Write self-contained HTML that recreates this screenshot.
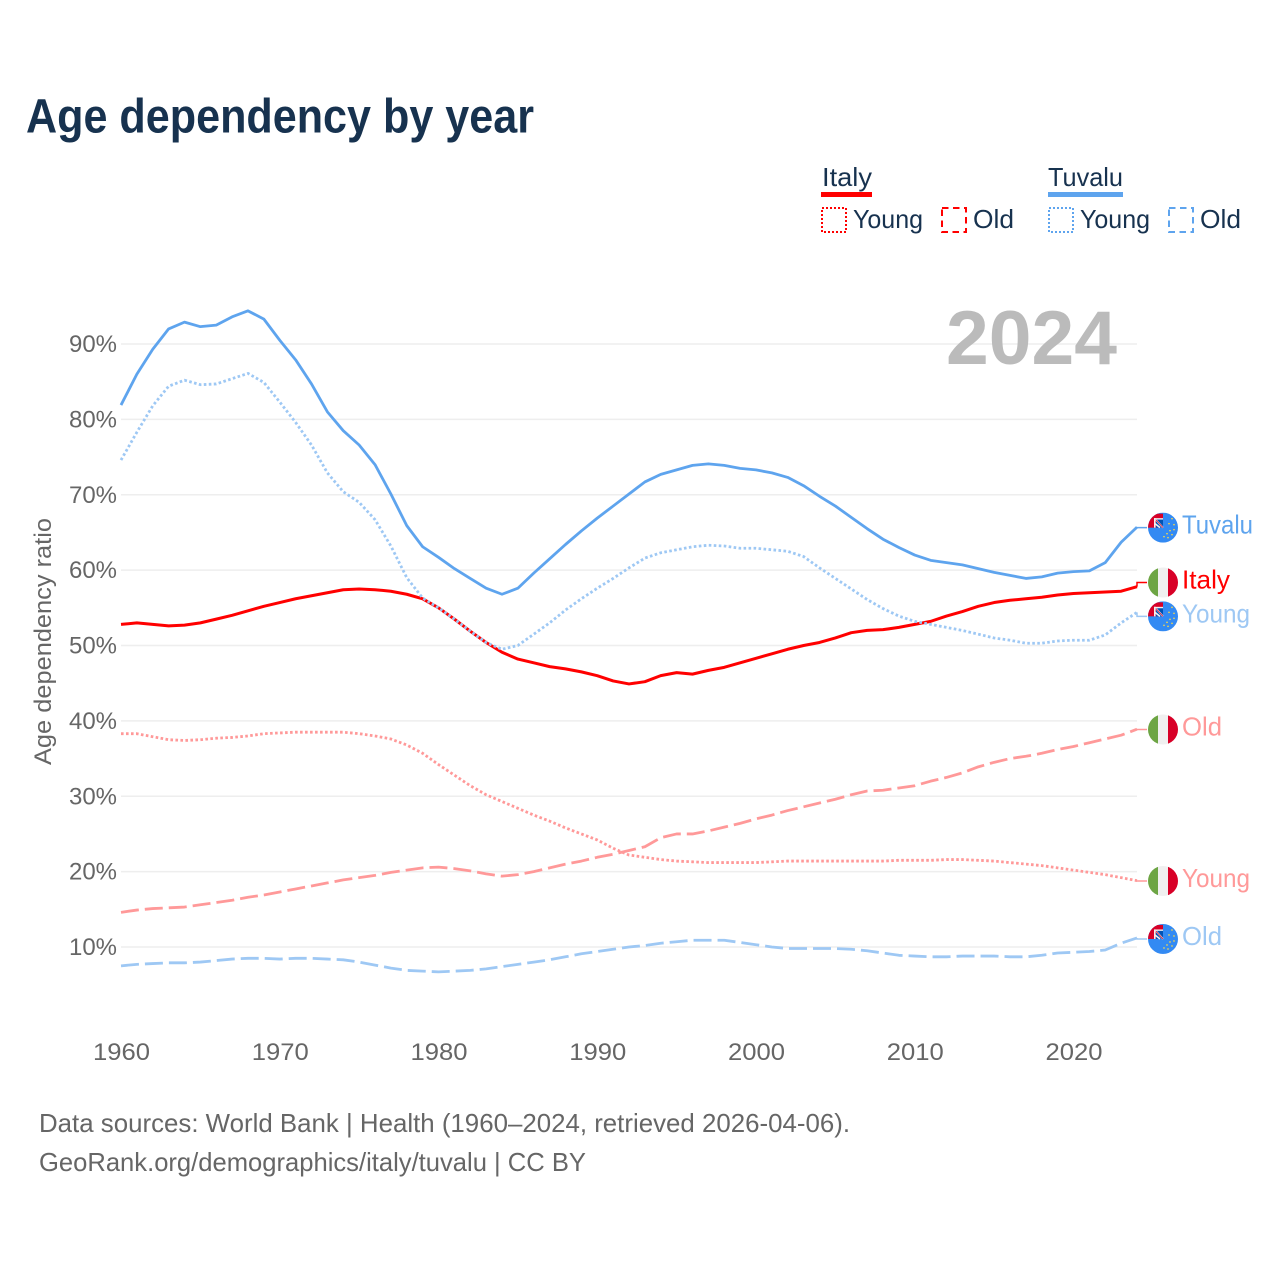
<!DOCTYPE html>
<html lang="en">
<head>
<meta charset="utf-8">
<title>Age dependency by year</title>
<style>
html,body{margin:0;padding:0;background:#fff;width:1280px;height:1280px;overflow:hidden}
svg{display:block}
text{font-family:"Liberation Sans",sans-serif}
</style>
</head>
<body>
<svg id="chart" width="1280" height="1280" viewBox="0 0 1280 1280" xmlns="http://www.w3.org/2000/svg">
  <defs>
    <clipPath id="flag-clip"><circle cx="0" cy="0" r="15"/></clipPath>
    <g id="flag-italy">
      <g clip-path="url(#flag-clip)">
        <rect x="-15" y="-15" width="30" height="30" fill="#f0f0f0"/>
        <rect x="-15" y="-15" width="10" height="30" fill="#6da544"/>
        <rect x="5" y="-15" width="10" height="30" fill="#d80027"/>
      </g>
    </g>
    <g id="flag-tuvalu">
      <g clip-path="url(#flag-clip)">
        <rect x="-15" y="-15" width="30" height="30" fill="#338af3"/>
        <rect x="-15" y="-14" width="15" height="14" fill="#d80027"/>
        <rect x="-7" y="-9" width="7" height="9" fill="#0052b4"/>
        <path d="M-8-9L0 0M-8-4L-3 0" stroke="#f0f0f0" stroke-width="1.6" fill="none"/>
        <path d="M-8-9L0 0" stroke="#d80027" stroke-width="0.7" fill="none"/>
        <rect x="-9" y="-9.5" width="1.6" height="9.5" fill="#f0f0f0"/>
        <rect x="-9" y="-9.5" width="9" height="1.4" fill="#f0f0f0"/>
        <g fill="#ffda44">
          <circle cx="9" cy="-9" r="0.8"/><circle cx="11" cy="-3" r="0.8"/><circle cx="6" cy="-4" r="0.8"/>
          <circle cx="11" cy="2" r="0.8"/><circle cx="7" cy="3" r="0.8"/><circle cx="4" cy="6" r="0.8"/>
          <circle cx="9" cy="7" r="0.8"/><circle cx="1" cy="9" r="0.8"/><circle cx="5" cy="10" r="0.8"/>
        </g>
      </g>
    </g>
  </defs>

  <text x="26" y="132.5" font-size="48" font-weight="700" fill="#17324f" textLength="508" lengthAdjust="spacingAndGlyphs">Age dependency by year</text>

  <g>
    <g>
      <text x="822" y="186" font-size="26" fill="#17324f" textLength="50" lengthAdjust="spacingAndGlyphs">Italy</text>
      <rect x="821" y="192" width="51" height="5" fill="#ff0000"/>
    </g>
    <g>
      <rect x="822" y="208" width="24" height="24" fill="none" stroke="#ff0000" stroke-width="2" stroke-dasharray="2 2"/>
      <text x="853" y="228" font-size="26" fill="#17324f" textLength="70" lengthAdjust="spacingAndGlyphs">Young</text>
    </g>
    <g>
      <rect x="942" y="208" width="24" height="24" fill="none" stroke="#ff0000" stroke-width="2" stroke-dasharray="6.5 4.5"/>
      <text x="973" y="228" font-size="26" fill="#17324f" textLength="41" lengthAdjust="spacingAndGlyphs">Old</text>
    </g>
    <g>
      <text x="1048" y="186" font-size="26" fill="#17324f" textLength="75" lengthAdjust="spacingAndGlyphs">Tuvalu</text>
      <rect x="1048" y="192" width="75" height="5" fill="#5ea4ee"/>
    </g>
    <g>
      <rect x="1049" y="208" width="24" height="24" fill="none" stroke="#5ea4ee" stroke-width="2" stroke-dasharray="2 2"/>
      <text x="1080" y="228" font-size="26" fill="#17324f" textLength="70" lengthAdjust="spacingAndGlyphs">Young</text>
    </g>
    <g>
      <rect x="1169" y="208" width="24" height="24" fill="none" stroke="#5ea4ee" stroke-width="2" stroke-dasharray="6.5 4.5"/>
      <text x="1200" y="228" font-size="26" fill="#17324f" textLength="41" lengthAdjust="spacingAndGlyphs">Old</text>
    </g>
  </g>

  <g id="grid"></g>
  <text x="946" y="364" font-size="76" font-weight="700" fill="#bbbbbb" textLength="171" lengthAdjust="spacingAndGlyphs">2024</text>
  <g id="y-ticks"></g>
  <g id="x-ticks"></g>
  <text transform="translate(51,765) rotate(-90)" font-size="24" fill="#666666" textLength="247" lengthAdjust="spacingAndGlyphs">Age dependency ratio</text>
  <g id="series"></g>
  <g id="end-labels"></g>

  <text x="39" y="1132" font-size="26" fill="#666666" textLength="811" lengthAdjust="spacingAndGlyphs">Data sources: World Bank | Health (1960–2024, retrieved 2026-04-06).</text>
  <text x="39" y="1171" font-size="26" fill="#666666" textLength="547" lengthAdjust="spacingAndGlyphs">GeoRank.org/demographics/italy/tuvalu | CC BY</text>
</svg>

<script>
const years = [
  1960,1961,1962,1963,1964,1965,1966,1967,1968,1969,
  1970,1971,1972,1973,1974,1975,1976,1977,1978,1979,
  1980,1981,1982,1983,1984,1985,1986,1987,1988,1989,
  1990,1991,1992,1993,1994,1995,1996,1997,1998,1999,
  2000,2001,2002,2003,2004,2005,2006,2007,2008,2009,
  2010,2011,2012,2013,2014,2015,2016,2017,2018,2019,
  2020,2021,2022,2023,2024
];
const tuvaluTotal = [
  81.9,86.0,89.3,92.0,92.9,92.3,92.5,93.6,94.4,93.3,
  90.5,87.9,84.7,81.0,78.5,76.6,74.0,70.1,65.9,63.1,
  61.7,60.2,58.9,57.6,56.8,57.6,59.6,61.5,63.4,65.2,
  66.9,68.5,70.1,71.7,72.7,73.3,73.9,74.1,73.9,73.5,
  73.3,72.9,72.3,71.2,69.8,68.5,67.0,65.5,64.1,63.0,
  62.0,61.3,61.0,60.7,60.2,59.7,59.3,58.9,59.1,59.6,
  59.8,59.9,61.0,63.7,65.7
];
const tuvaluYoung = [
  74.6,78.3,81.8,84.4,85.2,84.6,84.7,85.4,86.1,84.9,
  82.3,79.6,76.6,72.9,70.4,69.0,66.7,63.2,59.0,56.3,
  55.0,53.5,51.9,50.4,49.5,50.0,51.5,53.0,54.7,56.2,
  57.6,58.9,60.3,61.6,62.3,62.7,63.1,63.3,63.2,62.9,
  62.9,62.7,62.5,61.8,60.3,58.9,57.5,56.1,54.9,53.9,
  53.2,52.8,52.4,52.0,51.5,51.0,50.7,50.3,50.3,50.6,
  50.7,50.7,51.4,53.0,54.4
];
const tuvaluOld = [
  7.5,7.7,7.8,7.9,7.9,8.0,8.2,8.4,8.5,8.5,
  8.4,8.5,8.5,8.4,8.3,8.0,7.6,7.2,6.9,6.8,
  6.7,6.8,6.9,7.1,7.4,7.7,8.0,8.3,8.7,9.1,
  9.4,9.7,10.0,10.2,10.5,10.7,10.9,10.9,10.9,10.6,
  10.3,10.0,9.8,9.8,9.8,9.8,9.7,9.5,9.2,8.9,
  8.8,8.7,8.7,8.8,8.8,8.8,8.7,8.7,8.9,9.2,
  9.3,9.4,9.6,10.5,11.2
];
const italyTotal = [
  52.8,53.0,52.8,52.6,52.7,53.0,53.5,54.0,54.6,55.2,
  55.7,56.2,56.6,57.0,57.4,57.5,57.4,57.2,56.8,56.2,
  55.0,53.5,51.9,50.4,49.1,48.2,47.7,47.2,46.9,46.5,
  46.0,45.3,44.9,45.2,46.0,46.4,46.2,46.7,47.1,47.7,
  48.3,48.9,49.5,50.0,50.4,51.0,51.7,52.0,52.1,52.4,
  52.8,53.2,53.9,54.5,55.2,55.7,56.0,56.2,56.4,56.7,
  56.9,57.0,57.1,57.2,57.8
];
const italyYoung = [
  38.3,38.3,37.9,37.5,37.4,37.5,37.7,37.8,38.0,38.3,
  38.4,38.5,38.5,38.5,38.5,38.3,38.0,37.6,36.8,35.7,
  34.2,32.8,31.4,30.2,29.3,28.4,27.5,26.7,25.8,25.0,
  24.2,23.1,22.2,21.9,21.6,21.4,21.3,21.2,21.2,21.2,
  21.2,21.3,21.4,21.4,21.4,21.4,21.4,21.4,21.4,21.5,
  21.5,21.5,21.6,21.6,21.5,21.4,21.2,21.0,20.8,20.5,
  20.2,19.9,19.6,19.2,18.8
];
const italyOld = [
  14.6,14.9,15.1,15.2,15.3,15.6,15.9,16.2,16.6,16.9,
  17.3,17.7,18.1,18.5,18.9,19.2,19.5,19.9,20.2,20.5,
  20.6,20.4,20.1,19.7,19.4,19.6,20.0,20.5,21.0,21.4,
  21.9,22.3,22.8,23.3,24.5,25.0,25.0,25.4,25.9,26.4,
  27.0,27.5,28.1,28.6,29.1,29.6,30.2,30.7,30.8,31.1,
  31.4,32.0,32.5,33.1,33.9,34.5,35.0,35.3,35.7,36.2,
  36.6,37.1,37.6,38.1,38.9
];
const xTickYears = [1960,1970,1980,1990,2000,2010,2020];
const yTickValues = [10,20,30,40,50,60,70,80,90];

const NS = 'http://www.w3.org/2000/svg';
const X0 = 121, X1 = 1137, Y10 = 947, Y90 = 344;
function xScale(year){ return X0 + (year - 1960) * (X1 - X0) / 64; }
function yScale(v){ return Y10 + (v - 10) * (Y90 - Y10) / 80; }
function make(tag, attrs, parent){
  const e = document.createElementNS(NS, tag);
  for (const k in attrs) e.setAttribute(k, attrs[k]);
  parent.appendChild(e);
  return e;
}

const gridG = document.getElementById('grid');
const yG = document.getElementById('y-ticks');
yTickValues.forEach(function(v){
  const line = make('line', {x1:X0, x2:X1, y1:yScale(v), y2:yScale(v), stroke:'#eeeeee', 'stroke-width':1.5}, gridG);
  
  
  const t = make('text', {x:69, y:yScale(v)+8, 'font-size':24, fill:'#666666', textLength:48, lengthAdjust:'spacingAndGlyphs'}, yG);
  
  
  t.textContent = v + '%';
});

const xG = document.getElementById('x-ticks');
xTickYears.forEach(function(y){
  const t = make('text', {x:xScale(y)+0.5, y:1060, 'font-size':24, fill:'#666666', 'text-anchor':'middle', textLength:57, lengthAdjust:'spacingAndGlyphs'}, xG);
  
  
  t.textContent = y;
});

const seriesG = document.getElementById('series');
function drawLine(values, name, color, width, dash){
  const d = values.map(function(v, i){
    return (i ? 'L' : 'M') + xScale(years[i]).toFixed(2) + ' ' + yScale(v).toFixed(2);
  }).join('');
  const attrs = {d:d, fill:'none', stroke:color, 'stroke-width':width, 'stroke-linejoin':'round'};
  if (dash) attrs['stroke-dasharray'] = dash;
  const p = make('path', attrs, seriesG);
  
  
}
const RED = '#ff0000', BLUE = '#5ea4ee', PINK = '#ff9999', LIGHT = '#9ec8f4';
const DOT = '2.6 2.4', DASH = '18 6';
drawLine(tuvaluOld, 'line-tuvalu-old', LIGHT, 2.8, DASH);
drawLine(italyOld, 'line-italy-old', PINK, 2.8, DASH);
drawLine(italyYoung, 'line-italy-young', PINK, 2.8, DOT);
drawLine(tuvaluTotal, 'line-tuvalu-total', BLUE, 2.8, null);
drawLine(italyTotal, 'line-italy-total', RED, 3, null);
drawLine(tuvaluYoung, 'line-tuvalu-young', LIGHT, 2.8, DOT);

const endG = document.getElementById('end-labels');
function drawEnd(values, label, flag, color, nudge, textWidth, name){
  const yEnd = yScale(values[values.length - 1]);
  const yLabel = yEnd + nudge;
  const g = make('g', {}, endG);
  
  
  const leader = make('path', {d:'M' + X1 + ' ' + yEnd.toFixed(2) + 'V' + yLabel.toFixed(2) + 'H1147', fill:'none', stroke:color, 'stroke-width':1.5}, g);
  
  
  const f = make('use', {href:'#' + flag, x:1163, y:yLabel}, g);
  
  
  const t = make('text', {x:1182, y:yLabel + 6, 'font-size':26, fill:color, textLength:textWidth, lengthAdjust:'spacingAndGlyphs'}, g);
  
  
  t.textContent = label;
}
drawEnd(tuvaluTotal, 'Tuvalu', 'flag-tuvalu', BLUE, 0.5, 71, 'end-tuvalu-total');
drawEnd(italyTotal, 'Italy', 'flag-italy', RED, -4.2, 48, 'end-italy-total');
drawEnd(tuvaluYoung, 'Young', 'flag-tuvalu', LIGHT, 4, 68, 'end-tuvalu-young');
drawEnd(italyOld, 'Old', 'flag-italy', PINK, 0.3, 40, 'end-italy-old');
drawEnd(italyYoung, 'Young', 'flag-italy', PINK, 0.3, 68, 'end-italy-young');
drawEnd(tuvaluOld, 'Old', 'flag-tuvalu', LIGHT, 1, 40, 'end-tuvalu-old');
</script>
</body>
</html>
